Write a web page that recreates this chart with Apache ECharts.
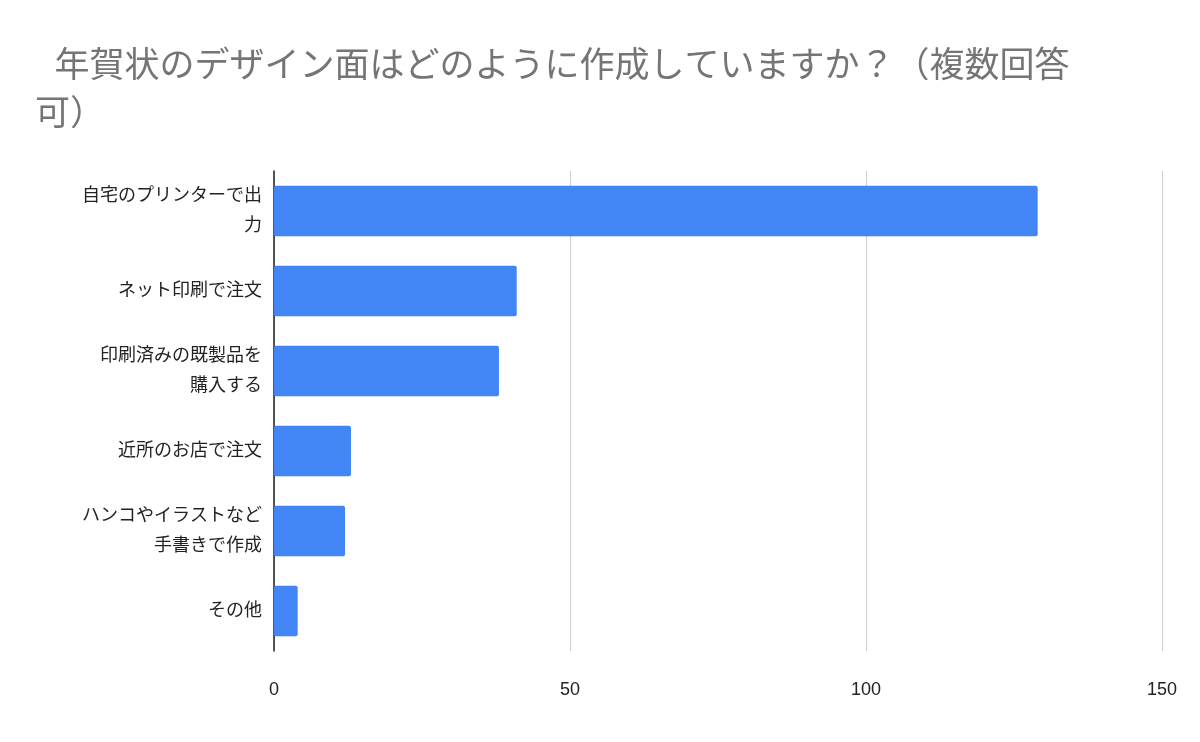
<!DOCTYPE html>
<html>
<head>
<meta charset="utf-8">
<script src="https://cdn.jsdelivr.net/npm/echarts@6/dist/echarts.min.js"></script>
<style>html,body{margin:0;padding:0;background:#fff}#chart-container{width:1200px;height:742px}</style>
</head>
<body>
<div id="chart-container"></div>
<script>
var titleText = "  年賀状のデザイン面はどのように作成していますか？（複数回答\n可）";
var categories = [
  "自宅のプリンターで出\n力",
  "ネット印刷で注文",
  "印刷済みの既製品を\n購入する",
  "近所のお店で注文",
  "ハンコやイラストなど\n手書きで作成",
  "その他"
];
var values = [129, 41, 38, 13, 12, 4];
var xTicks = [0, 50, 100, 150];

var myChart = echarts.init(document.getElementById("chart-container"), null, { renderer: "canvas" });
var font = "Liberation Sans, Noto Sans CJK JP, sans-serif";

var option = {
  animation: false,
  textStyle: { fontFamily: font },
  title: {
    text: titleText,
    left: 30,
    top: 38,
    textStyle: { color: "#757575", fontSize: 35, fontWeight: "normal", lineHeight: 48, fontFamily: font }
  },
  grid: { left: 274, right: 38, top: 171, bottom: 91 },
  xAxis: {
    type: "value",
    min: xTicks[0],
    max: xTicks[xTicks.length - 1],
    interval: 50,
    axisLine: { show: false },
    axisTick: { show: false },
    splitLine: { lineStyle: { color: "#cccccc", width: 1 } },
    axisLabel: { color: "#222", fontSize: 18, margin: 30 }
  },
  yAxis: {
    type: "category",
    inverse: true,
    data: categories,
    axisLine: { lineStyle: { color: "#222", width: 1.5 } },
    axisTick: { show: false },
    axisLabel: { color: "#222", fontSize: 18, lineHeight: 30, align: "right", margin: 12 }
  },
  series: [{
    type: "bar",
    data: values,
    barCategoryGap: "37%",
    itemStyle: { color: "#4285f4", borderRadius: 2 }
  }]
};

myChart.setOption(option);
window.addEventListener("resize", myChart.resize);
</script>
</body>
</html>
